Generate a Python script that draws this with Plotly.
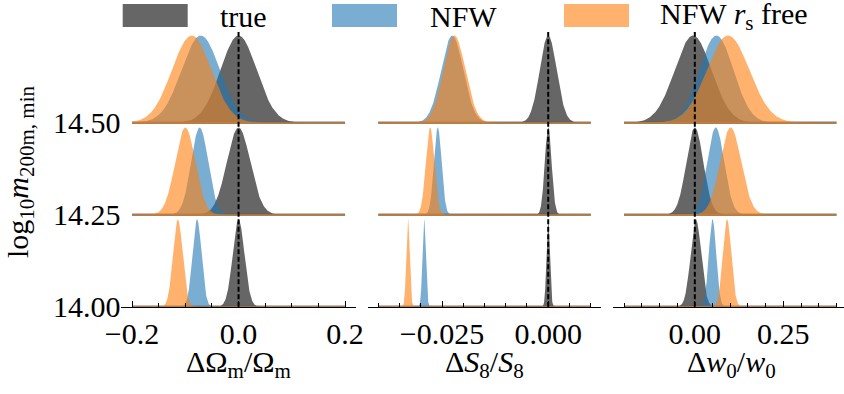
import numpy as np
import plotly.graph_objects as go

# ---------------- data ----------------
rows = [14.00, 14.25, 14.50]
row_labels = ["14.00", "14.25", "14.50"]
series_names = ["true", "NFW", "NFW <i>r</i><sub>s</sub> free"]
series_colors = ["rgba(0,0,0,0.6)", "rgba(31,119,180,0.6)", "rgba(255,127,14,0.6)"]

# Delta Omega_m / Omega_m : mean and sigma for rows 14.00, 14.25, 14.50
om_true_mean = [0.000, 0.000, 0.000]
om_true_sigma = [0.011, 0.022, 0.034]
om_nfw_mean = [-0.078, -0.073, -0.071]
om_nfw_sigma = [0.0085, 0.016, 0.036]
om_free_mean = [-0.114, -0.100, -0.088]
om_free_sigma = [0.009, 0.019, 0.037]

# Delta S8 / S8
s8_true_mean = [0.000, 0.000, 0.000]
s8_true_sigma = [0.0004, 0.0008, 0.0020]
s8_nfw_mean = [-0.0292, -0.0260, -0.0226]
s8_nfw_sigma = [0.0004, 0.0009, 0.0026]
s8_free_mean = [-0.0330, -0.0278, -0.0221]
s8_free_sigma = [0.0004, 0.0010, 0.0026]

# Delta w0 / w0
w0_true_mean = [0.003, 0.000, -0.005]
w0_true_sigma = [0.015, 0.024, 0.052]
w0_nfw_mean = [0.050, 0.059, 0.061]
w0_nfw_sigma = [0.0105, 0.024, 0.048]
w0_free_mean = [0.091, 0.101, 0.094]
w0_free_sigma = [0.012, 0.030, 0.060]

# evaluation grid of each panel
om_grid = [-0.2, 0.2]
s8_grid = [-0.04, 0.01]
w0_grid = [-0.2, 0.4]

# tick labels
om_ticks = [-0.2, 0.0, 0.2]
om_ticktext = ["\u22120.2", "0.0", "0.2"]
s8_ticks = [-0.025, 0.0]
s8_ticktext = ["\u22120.025", "0.000"]
w0_ticks = [0.0, 0.25]
w0_ticktext = ["0.00", "0.25"]

x_titles = ["\u0394\u03a9<sub>m</sub>/\u03a9<sub>m</sub>",
            "\u0394<i>S</i><sub>8</sub>/<i>S</i><sub>8</sub>",
            "\u0394<i>w</i><sub>0</sub>/<i>w</i><sub>0</sub>"]

peak_height = 0.2375

panels = [
    dict(grid=om_grid, means=[om_true_mean, om_nfw_mean, om_free_mean],
         sigmas=[om_true_sigma, om_nfw_sigma, om_free_sigma],
         ticks=om_ticks, ticktext=om_ticktext, minor=0.05,
         rng=[-0.22, 0.22], dom=[121.4 / 844, 355.7 / 844], center=238.5),
    dict(grid=s8_grid, means=[s8_true_mean, s8_nfw_mean, s8_free_mean],
         sigmas=[s8_true_sigma, s8_nfw_sigma, s8_free_sigma],
         ticks=s8_ticks, ticktext=s8_ticktext, minor=0.005,
         rng=[-0.0425, 0.0125], dom=[367.7 / 844, 601.3 / 844], center=484.5),
    dict(grid=w0_grid, means=[w0_true_mean, w0_nfw_mean, w0_free_mean],
         sigmas=[w0_true_sigma, w0_nfw_sigma, w0_free_sigma],
         ticks=w0_ticks, ticktext=w0_ticktext, minor=0.05,
         rng=[-0.23, -0.23 + 230.6 / 354.0], dom=[613.4 / 844, 1.0], center=731.0),
]

FONT = "Liberation Serif"
fig = go.Figure()
shapes = []
annotations = []

for p_i, p in enumerate(panels):
    xa = "x" if p_i == 0 else f"x{p_i + 1}"
    xs = np.linspace(p["grid"][0], p["grid"][1], 2001)
    for r_i, base in enumerate(rows):
        for s_i in range(3):
            mu = p["means"][s_i][r_i]
            sg = p["sigmas"][s_i][r_i]
            ys = base + peak_height * np.exp(-0.5 * ((xs - mu) / sg) ** 2)
            px_ = np.concatenate([xs, xs[::-1]])
            py_ = np.concatenate([ys, np.full_like(xs, base)])
            fig.add_trace(go.Scatter(x=px_, y=py_, fill="toself", mode="lines",
                                     line=dict(width=0), fillcolor=series_colors[s_i],
                                     xaxis=xa, yaxis="y", showlegend=False,
                                     hoverinfo="skip"))
            fig.add_trace(go.Scatter(x=[xs[0], xs[-1]], y=[base, base], mode="lines",
                                     line=dict(width=2, color=series_colors[s_i]),
                                     xaxis=xa, yaxis="y", showlegend=False,
                                     hoverinfo="skip"))
    # dashed zero line
    shapes.append(dict(type="line", xref=xa, yref="y domain", x0=0, x1=0, y0=0, y1=1,
                       line=dict(color="black", width=2, dash="5px,2.5px"), layer="above"))
    # x title
    annotations.append(dict(text=x_titles[p_i], xref="paper", yref="paper",
                            x=p["center"] / 844, y=1 - 364 / 394,
                            xanchor="center", yanchor="middle",
                            showarrow=False, font=dict(family=FONT, size=30, color="black")))

    minor_vals = list(np.round(np.arange(p["grid"][0], p["grid"][1] + 1e-9, p["minor"]), 6))
    axis = dict(domain=p["dom"], range=p["rng"], anchor="y", automargin=False,
                showline=True, linecolor="black", linewidth=1.3,
                ticks="inside", ticklen=6, tickwidth=1.3, tickcolor="black",
                tickmode="array", tickvals=p["ticks"], ticktext=p["ticktext"],
                minor=dict(tickmode="array", tickvals=minor_vals, ticks="inside",
                           ticklen=4, tickwidth=1.1, tickcolor="black"),
                showgrid=False, zeroline=False,
                tickfont=dict(family=FONT, size=30, color="black"))
    key = "xaxis" if p_i == 0 else f"xaxis{p_i + 1}"
    fig.update_layout(**{key: axis})

fig.update_layout(yaxis=dict(domain=[1 - 306.7 / 394, 1 - 32 / 394], range=[14.0, 14.747],
                             anchor="x", automargin=False, showline=False, ticks="",
                             showgrid=False, zeroline=False, tickmode="array",
                             tickvals=rows, ticktext=row_labels,
                             tickfont=dict(family=FONT, size=30, color="black")))

# y title
annotations.append(dict(text="log<sub>10</sub><i>m</i><sub>200m, min</sub>",
                        xref="paper", yref="paper", x=20 / 844, y=1 - 172 / 394,
                        xanchor="center", yanchor="middle", textangle=-90, showarrow=False,
                        font=dict(family=FONT, size=30, color="black")))

# legend (patches + labels)
leg_patch_x = [122.7, 332.0, 564.0]
leg_text_x = [218.0, 428.0, 658.0]
for s_i in range(3):
    shapes.append(dict(type="rect", xref="paper", yref="paper",
                       x0=leg_patch_x[s_i] / 844, x1=(leg_patch_x[s_i] + 65) / 844,
                       y0=1 - 27 / 394, y1=1 - 4 / 394,
                       fillcolor=series_colors[s_i], line=dict(width=0)))
    annotations.append(dict(text=series_names[s_i], xref="paper", yref="paper",
                            x=leg_text_x[s_i] / 844, y=1 - 16 / 394,
                            xanchor="left", yanchor="middle", showarrow=False,
                            font=dict(family=FONT, size=30, color="black")))

fig.update_layout(width=844, height=394, margin=dict(l=0, r=0, t=0, b=0),
                  paper_bgcolor="white", plot_bgcolor="white",
                  showlegend=False, shapes=shapes, annotations=annotations)

fig.write_html("out.html")
